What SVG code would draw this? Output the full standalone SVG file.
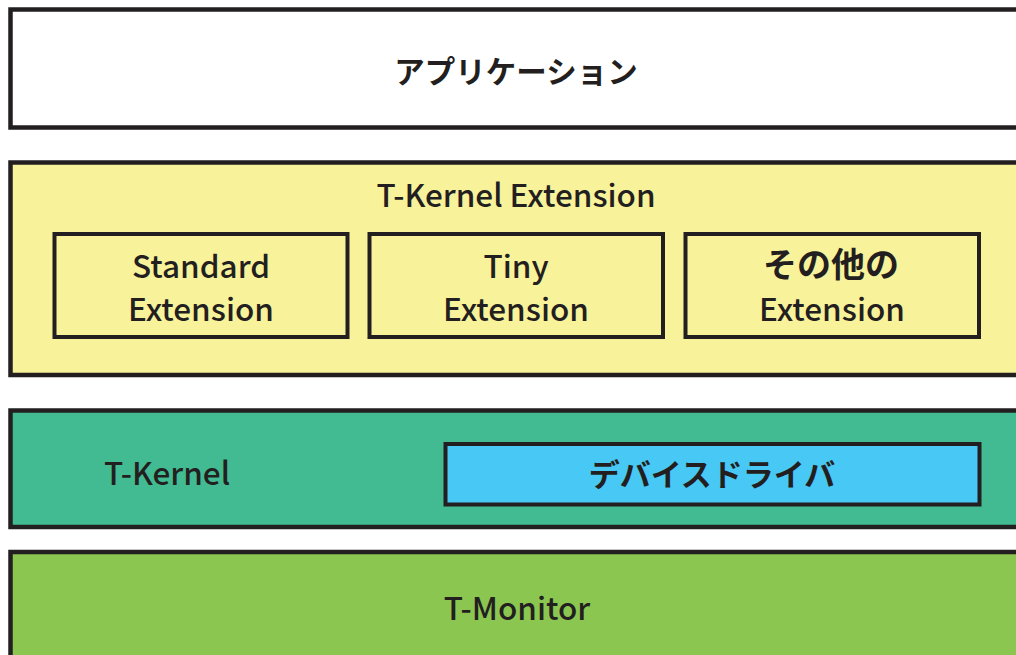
<svg xmlns="http://www.w3.org/2000/svg" width="1016" height="655" viewBox="0 0 1016 655">
<style>
.box{stroke:#231f20;stroke-width:4.5}
.in{stroke:#231f20;stroke-width:4}
text{font-family:"Noto Sans CJK JP","Liberation Sans",sans-serif;font-weight:500;fill:#231f20;text-anchor:middle}
.l{font-size:31.5px}
.j{font-weight:700}
</style>
<rect width="1016" height="655" fill="#ffffff"/>
<g id="app">
<rect class="box" x="10.5" y="9.5" width="1030" height="118" fill="#ffffff"/>
<text class="j" x="516" y="83" font-size="30.5">アプリケーション</text>
</g>
<g id="ext">
<rect class="box" x="10.5" y="162.5" width="1030" height="212.5" fill="#f8f29a"/>
<text class="l" x="516" y="207">T-Kernel Extension</text>
</g>
<g id="std">
<rect class="in" x="54.5" y="234" width="293" height="103" fill="none"/>
<text class="l" x="201" y="278">Standard</text>
<text class="l" x="201" y="321">Extension</text>
</g>
<g id="tiny">
<rect class="in" x="369.5" y="234" width="293.5" height="103" fill="none"/>
<text class="l" x="516" y="278">Tiny</text>
<text class="l" x="516" y="321">Extension</text>
</g>
<g id="other">
<rect class="in" x="685.5" y="234" width="293.5" height="103" fill="none"/>
<text class="j" x="831" y="277" font-size="34">その他の</text>
<text class="l" x="832" y="321">Extension</text>
</g>
<g id="kernel">
<rect class="box" x="10.5" y="410.5" width="1030" height="116.5" fill="#42bb93"/>
<text class="l" x="167" y="485">T-Kernel</text>
</g>
<g id="driver">
<rect class="in" x="445.5" y="444" width="534" height="60.5" fill="#48c8f4"/>
<text class="j" x="712" y="486" font-size="31">デバイスドライバ</text>
</g>
<g id="monitor">
<rect class="box" x="10.5" y="552" width="1030" height="120" fill="#8bc650"/>
<text class="l" x="517" y="620">T-Monitor</text>
</g>
<g id="connectors"/>
</svg>
